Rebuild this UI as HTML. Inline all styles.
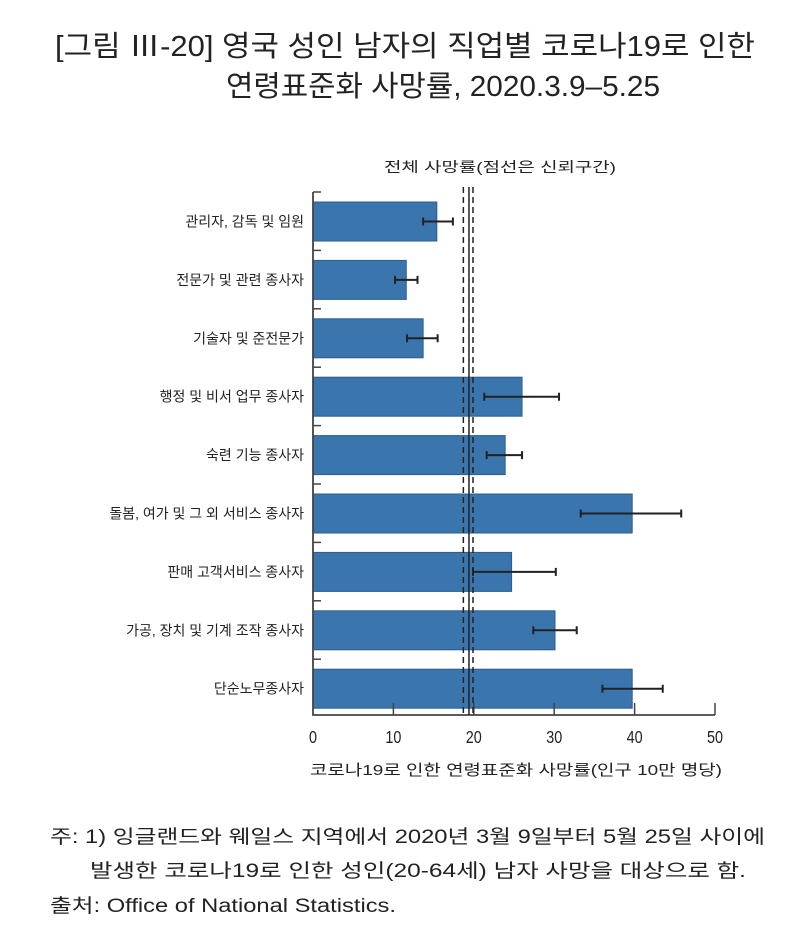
<!DOCTYPE html>
<html><head><meta charset="utf-8">
<style>
html,body{margin:0;padding:0;background:#fff;}
svg{display:block;}
text{font-family:"Liberation Sans","Noto Sans CJK KR",sans-serif;fill:#222;}
</style></head>
<body>
<svg id="chart" width="800" height="951" viewBox="0 0 800 951" xmlns="http://www.w3.org/2000/svg">
<text x="55" y="56" font-size="29" textLength="700" lengthAdjust="spacingAndGlyphs">[그림 Ⅲ-20]  영국 성인 남자의 직업별 코로나19로 인한</text>
<text x="226" y="96" font-size="29" textLength="434" lengthAdjust="spacingAndGlyphs">연령표준화 사망률, 2020.3.9–5.25</text>
<text x="384" y="172" font-size="14" textLength="232" lengthAdjust="spacingAndGlyphs">전체 사망률(점선은 신뢰구간)</text>
<g id="plot"></g>
<text x="310" y="775" font-size="15" textLength="412" lengthAdjust="spacingAndGlyphs">코로나19로 인한 연령표준화 사망률(인구 10만 명당)</text>
<text x="50" y="843" font-size="19" textLength="715" lengthAdjust="spacingAndGlyphs">주: 1) 잉글랜드와 웨일스 지역에서 2020년 3월 9일부터 5월 25일 사이에</text>
<text x="90" y="877" font-size="19" textLength="656" lengthAdjust="spacingAndGlyphs">발생한 코로나19로 인한 성인(20-64세) 남자 사망을 대상으로 함.</text>
<text x="50" y="912" font-size="19" textLength="346" lengthAdjust="spacingAndGlyphs">출처: Office of National Statistics.</text>
</svg>
<script>
const categories = ["관리자, 감독 및 임원","전문가 및 관련 종사자","기술자 및 준전문가","행정 및 비서 업무 종사자","숙련 기능 종사자","돌봄, 여가 및 그 외 서비스 종사자","판매 고객서비스 종사자","가공, 장치 및 기계 조작 종사자","단순노무종사자"];
const values = [15.4, 11.6, 13.7, 26.0, 23.9, 39.7, 24.7, 30.1, 39.7];
const ciLow = [13.7, 10.2, 11.7, 21.3, 21.6, 33.3, 19.9, 27.4, 36.0];
const ciHigh = [17.4, 13.0, 15.5, 30.6, 26.0, 45.8, 30.2, 32.8, 43.5];
const overall = 19.4;
const overallLow = 18.7;
const overallHigh = 19.9;
const ticks = [0, 10, 20, 30, 40, 50];

const NS = "http://www.w3.org/2000/svg";
const g = document.getElementById('plot');
const x0 = 313, x1 = 715, xMax = 50;
const plotTop = 192, axisY = 715, pitch = 58.4, firstTop = 202, barH = 39;
const xs = v => x0 + (v / xMax) * (x1 - x0);
function mk(tag, attrs) { const e = document.createElementNS(NS, tag); for (const k in attrs) e.setAttribute(k, attrs[k]); g.appendChild(e); return e; }

categories.forEach((c, i) => {
  const y = firstTop + i * pitch;
  const r = mk('rect', {x: x0, y: y, width: xs(values[i]) - x0, height: barH, fill: '#3a76ad', stroke: '#2d5d8a', 'stroke-width': 1});
  
  
  const cy = y + barH / 2;
  const e = mk('path', {d: `M${xs(ciLow[i])},${cy}H${xs(ciHigh[i])}M${xs(ciLow[i])},${cy-4}V${cy+4}M${xs(ciHigh[i])},${cy-4}V${cy+4}`, stroke: '#222', 'stroke-width': 2, fill: 'none'});
  
  
  const t = mk('text', {x: 304, y: cy + 5, 'font-size': 14, 'text-anchor': 'end'});
  t.textContent = c;
  
  
  const tk = mk('line', {x1: x0, x2: x0 + 8, y1: y - 10, y2: y - 10, stroke: '#444', 'stroke-width': 1.5});
  
  
});

const ya = mk('path', {d: `M${x0},${plotTop}V${axisY}H${x1}`, stroke: '#444', 'stroke-width': 1.8, fill: 'none'});



ticks.forEach(v => {
  if (v > 0) {
    const l = mk('line', {x1: xs(v), x2: xs(v), y1: axisY, y2: axisY - 12, stroke: '#444', 'stroke-width': 1.5});
    
    
  }
  const t = mk('text', {x: xs(v), y: 743, 'font-size': 18, 'text-anchor': 'middle', transform: `translate(${xs(v)},0) scale(0.8,1) translate(${-xs(v)},0)`});
  t.textContent = v;
  
  
});

const sl = mk('line', {x1: xs(overall), x2: xs(overall), y1: 187, y2: axisY, stroke: '#222', 'stroke-width': 1.5});


[overallLow, overallHigh].forEach(v => {
  const d = mk('line', {x1: xs(v), x2: xs(v), y1: 187, y2: axisY, stroke: '#222', 'stroke-width': 1.5, 'stroke-dasharray': '6,4'});
  
  
});
</script>
</body></html>
